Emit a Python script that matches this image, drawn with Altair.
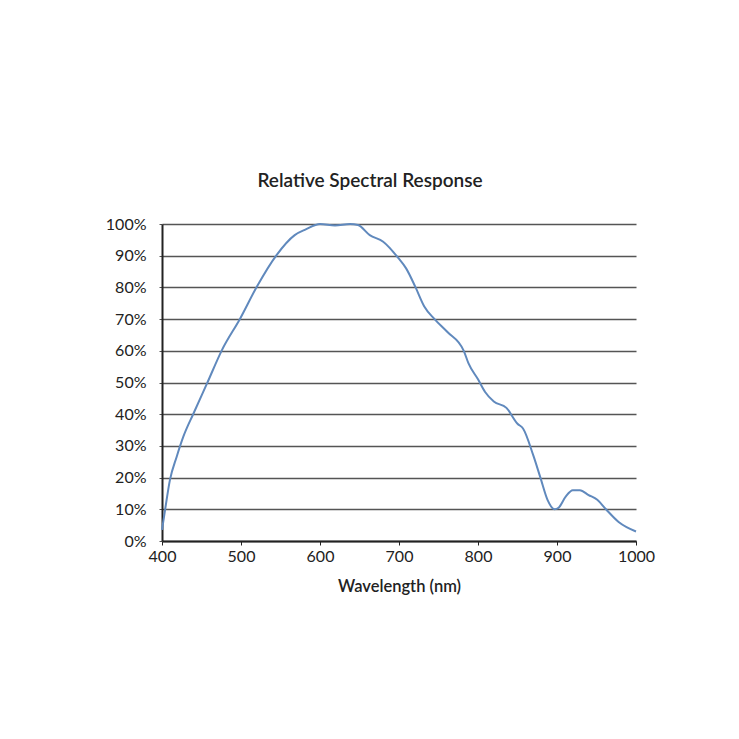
import altair as alt
import pandas as pd

wavelength = [400, 404, 410, 418.6, 427, 440, 457, 476, 499, 520, 545, 568, 582, 600, 619, 638, 648,
              663, 680, 699, 709, 721, 732, 745, 761, 782, 788, 800, 809, 820, 836, 850, 857,
              870, 879, 888, 897, 902, 911, 920, 929, 940, 951, 962, 978, 1000]
response = [3.5, 10, 19.2, 26.6, 32.9, 40.3, 49.7, 60.3, 70.2, 80.2, 90.2, 96.5, 98.3, 100, 99.5, 100, 99.7,
            96.5, 94.4, 89.3, 86, 80, 74, 70, 66, 60, 56, 51, 47, 44, 42, 37, 35.5,
            27, 20, 13, 10, 10.5, 14, 16, 16, 14.5, 13, 10, 6, 3]

df = pd.DataFrame({"wavelength": wavelength, "response": [r / 100 for r in response]})

font = "Lato"

chart = alt.Chart(df).mark_line(color="#6089bd", strokeWidth=2, interpolate="monotone").encode(
    x=alt.X("wavelength:Q", scale=alt.Scale(domain=[400, 1000], nice=False),
            axis=alt.Axis(title="Wavelength (nm)", values=[400, 500, 600, 700, 800, 900, 1000],
                          format="d", labelFlush=False,
                          grid=False, domainColor="#222", domainWidth=2, tickColor="#222",
                          tickSize=4, labelFontSize=16, labelColor="#222", labelPadding=3,
                          titleFontSize=16.5, titleFontWeight=600, titleColor="#222", titlePadding=14,
                          labelFont=font, titleFont=font)),
    y=alt.Y("response:Q", scale=alt.Scale(domain=[0, 1], nice=False),
            axis=alt.Axis(title=None, format=".0%", values=[i / 10 for i in range(11)],
                          grid=True, gridColor="#555", gridWidth=1.3, domainColor="#222",
                          domainWidth=2, tickColor="#555", tickSize=3, labelFontSize=16,
                          labelColor="#222", labelPadding=13, labelFont=font)),
).properties(
    width=474, height=317,
    title=alt.TitleParams("Relative Spectral Response", fontSize=19, fontWeight=600,
                          font=font, color="#222", anchor="middle", offset=25, dx=-29),
    autosize=alt.AutoSizeParams(type="none"),
    padding={"left": 154, "top": 216, "right": 95, "bottom": 170},
).configure_view(stroke=None)

chart.save("out.html", embed_options={"renderer": "svg", "actions": False})
